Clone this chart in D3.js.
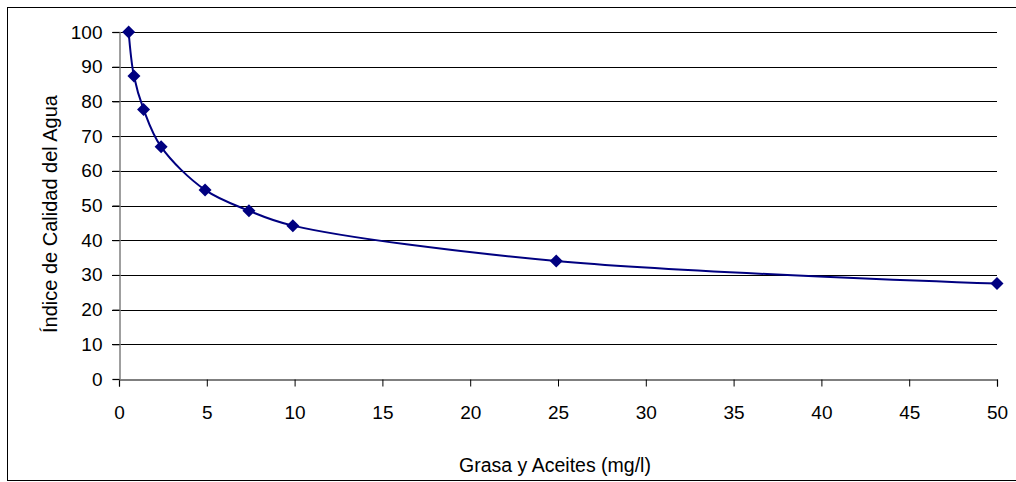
<!DOCTYPE html>
<html><head><meta charset="utf-8">
<script src="https://cdn.jsdelivr.net/npm/d3@7"></script>
<style>body{margin:0;background:#fff}svg text{font-family:"Liberation Sans",Arial,sans-serif;fill:#000}</style>
</head><body><svg id="c" width="1016" height="482"></svg>
<script>
const grasa = [0.55, 0.85, 1.4, 2.4, 4.9, 7.4, 9.9, 24.9, 50];
const ica = [100, 87.3, 77.7, 66.9, 54.5, 48.5, 44.2, 34, 27.5];
const xTicks = [0,5,10,15,20,25,30,35,40,45,50];
const yTicks = [0,10,20,30,40,50,60,70,80,90,100];
const xTitle = "Grasa y Aceites (mg/l)";
const yTitle = "Índice de Calidad del Agua";

const svg = d3.select("#c");
svg.append("rect").attr("x",7.5).attr("y",7.5).attr("width",1012).attr("height",473)
  .attr("fill","#fff").attr("stroke","#000").attr("stroke-width",1);

const x = d3.scaleLinear().domain([0,50]).range([119,997]);
const y = d3.scaleLinear().domain([0,100]).range([379,32]);

svg.append("g").selectAll("line").data(yTicks.filter(d=>d>0)).join("line")
  .attr("x1",112).attr("x2",997).attr("y1",d=>Math.round(y(d))+0.5).attr("y2",d=>Math.round(y(d))+0.5)
  .attr("stroke","#000").attr("stroke-width",1);

const gx = svg.append("g").attr("transform","translate(0,379.5)")
  .call(d3.axisBottom(x).tickValues(xTicks).tickSize(7).tickPadding(19).tickFormat(d3.format("d")));
const gy = svg.append("g").attr("transform","translate(119.5,0)")
  .call(d3.axisLeft(y).tickValues(yTicks).tickSize(7).tickPadding(10).tickFormat(d3.format("d")));
[gx,gy].forEach(g=>{
  g.selectAll(".tick line").attr("stroke","#000");
  g.selectAll("text").style("font-size","19px").attr("fill","#000");
});
gx.select(".domain").attr("stroke","#000").attr("stroke-width",1.2);
gy.select(".domain").attr("stroke","#808080").attr("stroke-width",1.5);

const pts = grasa.map((g,i)=>[g,ica[i]]);
svg.append("path").datum(pts)
  .attr("d", d3.line().x(d=>x(d[0])).y(d=>y(d[1])).curve(d3.curveCatmullRom.alpha(0.5)))
  .attr("fill","none").attr("stroke","#000080").attr("stroke-width",2);

svg.append("g").selectAll("path").data(pts).join("path")
  .attr("d","M0,-6.5L6.5,0L0,6.5L-6.5,0Z")
  .attr("transform",d=>`translate(${x(d[0])},${y(d[1])})`)
  .attr("fill","#000080");

svg.append("text").attr("x",555).attr("y",472).attr("text-anchor","middle")
  .style("font-size","19.5px").text(xTitle);
svg.append("text").attr("transform","translate(57,214) rotate(-90)").attr("text-anchor","middle")
  .style("font-size","20px").text(yTitle);
</script></body></html>
